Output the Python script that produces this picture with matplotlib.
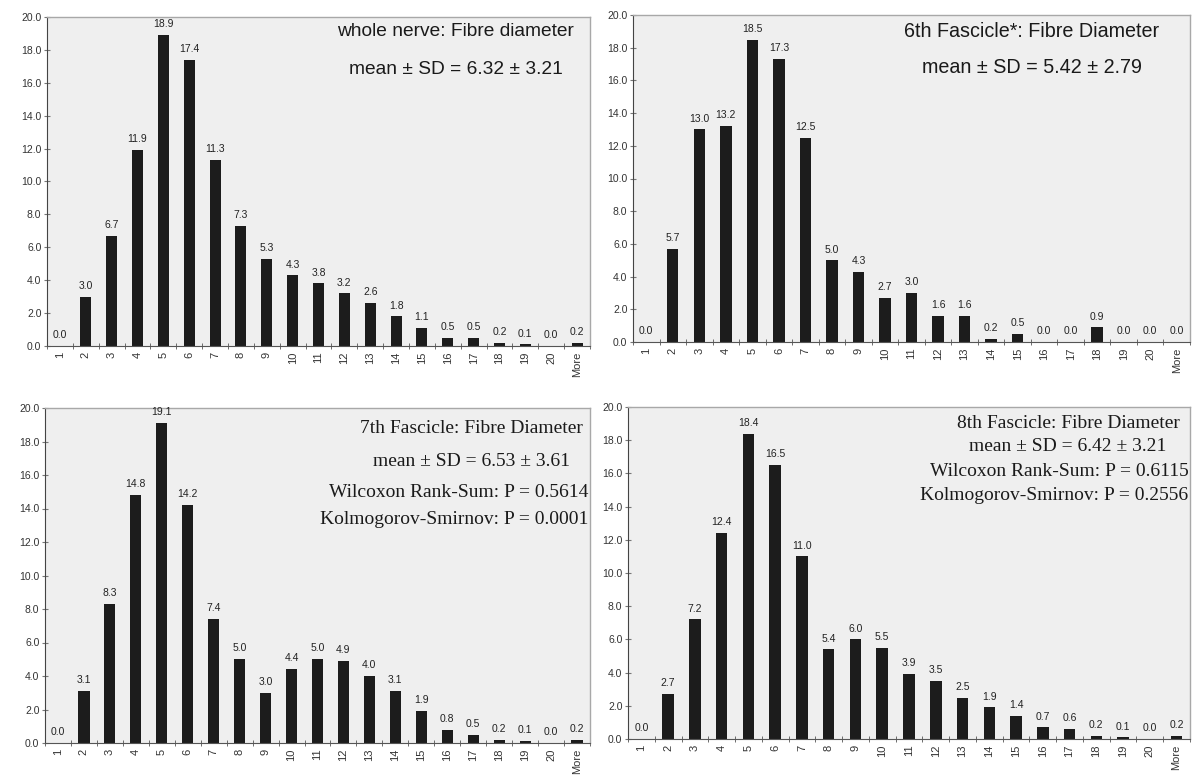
import matplotlib.pyplot as plt

categories = [str(i) for i in range(1, 21)] + ['More']

whole_nerve = [0.0, 3.0, 6.7, 11.9, 18.9, 17.4, 11.3, 7.3, 5.3, 4.3, 3.8,
               3.2, 2.6, 1.8, 1.1, 0.5, 0.5, 0.2, 0.1, 0.0, 0.2]
fascicle_6 = [0.0, 5.7, 13.0, 13.2, 18.5, 17.3, 12.5, 5.0, 4.3, 2.7, 3.0,
              1.6, 1.6, 0.2, 0.5, 0.0, 0.0, 0.9, 0.0, 0.0, 0.0]
fascicle_7 = [0.0, 3.1, 8.3, 14.8, 19.1, 14.2, 7.4, 5.0, 3.0, 4.4, 5.0,
              4.9, 4.0, 3.1, 1.9, 0.8, 0.5, 0.2, 0.1, 0.0, 0.2]
fascicle_8 = [0.0, 2.7, 7.2, 12.4, 18.4, 16.5, 11.0, 5.4, 6.0, 5.5, 3.9,
              3.5, 2.5, 1.9, 1.4, 0.7, 0.6, 0.2, 0.1, 0.0, 0.2]

text_whole = ['whole nerve: Fibre diameter', 'mean \u00b1 SD = 6.32 \u00b1 3.21']
text_6th = ['6th Fascicle*: Fibre Diameter', 'mean \u00b1 SD = 5.42 \u00b1 2.79']
text_7th = ['7th Fascicle: Fibre Diameter', 'mean \u00b1 SD = 6.53 \u00b1 3.61',
            'Wilcoxon Rank-Sum: P = 0.5614', 'Kolmogorov-Smirnov: P = 0.0001']
text_8th = ['8th Fascicle: Fibre Diameter', 'mean \u00b1 SD = 6.42 \u00b1 3.21',
            'Wilcoxon Rank-Sum: P = 0.6115', 'Kolmogorov-Smirnov: P = 0.2556']

W, H = 1196, 777
fig = plt.figure(figsize=(W / 100, H / 100), dpi=100)


def px_axes(left, top, right, bottom):
	return fig.add_axes([left / W, 1 - bottom / H, (right - left) / W, (bottom - top) / H])


def histogram(ax, values):
	x = range(len(values))
	ax.set_facecolor('#efefef')
	ax.bar(x, values, width=0.43, color='#1c1c1c', zorder=2)
	for xi, v in zip(x, values):
		ax.text(xi, v + 0.35, '%.1f' % v, ha='center', va='bottom',
				fontsize=7.5, color='#222222', family='Liberation Sans', clip_on=False)
	ax.set_xlim(-0.5, len(values) - 0.5)
	ax.set_ylim(0, 20)
	ax.set_yticks([i * 2.0 for i in range(11)])
	ax.set_yticklabels(['%.1f' % (i * 2.0) for i in range(11)], fontsize=7.5,
					   color='#333333', family='Liberation Sans')
	ax.set_xticks(list(x))
	ax.set_xticklabels(categories, rotation=90, fontsize=8, color='#333333',
					   family='Liberation Sans')
	ax.tick_params(axis='x', length=0, pad=4)
	ax.tick_params(axis='y', length=4, direction='inout', width=0.8, color='#777777', pad=2)
	# category boundary ticks drawn across the x axis line
	ax.set_xticks([i + 0.5 for i in range(-1, len(values))], minor=True)
	ax.tick_params(axis='x', which='minor', length=5, direction='inout', color='#555555')
	for side in ['top', 'right']:
		ax.spines[side].set_color('#a8a8a8')
		ax.spines[side].set_linewidth(1.0)
	ax.spines['left'].set_color('#444444')
	ax.spines['bottom'].set_color('#555555')


def notes(ax, lines, x, ys, family, size):
	# title and mean centred, test results pushed against the right frame
	for i, (line, y) in enumerate(zip(lines, ys)):
		if i < 2:
			ax.text(x, y, line, transform=ax.transAxes, ha='center', va='center',
					fontsize=size, family=family, color='#1a1a1a')
		else:
			ax.text(0.997, y, line, transform=ax.transAxes, ha='right', va='center',
					fontsize=size, family=family, color='#1a1a1a')


ax1 = px_axes(47, 17, 590, 346)
histogram(ax1, whole_nerve)
notes(ax1, text_whole, 0.753, [0.957, 0.839], 'Liberation Sans', 13.8)

ax2 = px_axes(633, 15, 1190, 342)
histogram(ax2, fascicle_6)
notes(ax2, text_6th, 0.716, [0.951, 0.838], 'Liberation Sans', 14.2)

ax3 = px_axes(45, 408, 590, 743)
histogram(ax3, fascicle_7)
notes(ax3, text_7th, 0.782, [0.940, 0.839, 0.749, 0.666], 'Liberation Serif', 14)

ax4 = px_axes(628, 407, 1190, 739)
histogram(ax4, fascicle_8)
notes(ax4, text_8th, 0.783, [0.949, 0.880, 0.806, 0.733], 'Liberation Serif', 14)

fig.savefig('out.png', dpi=100, facecolor='white')
